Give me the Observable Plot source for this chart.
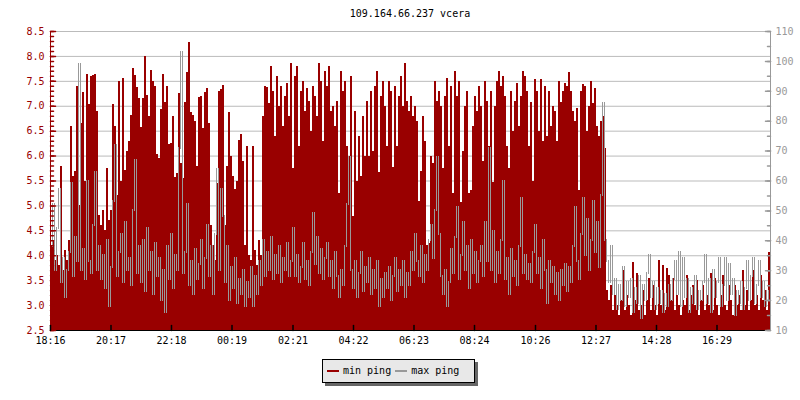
<!DOCTYPE html>
<html>
<head>
<meta charset="utf-8">
<script src="https://cdn.jsdelivr.net/npm/d3@7"></script>
<script src="https://cdn.jsdelivr.net/npm/@observablehq/plot@0.6"></script>
<style>
  html, body { margin: 0; padding: 0; background: #fff; }
  #wrap { position: relative; width: 800px; height: 400px; font-family: "DejaVu Sans Mono", monospace; font-size: 10px; }
  #title { position: absolute; left: 50px; width: 720px; top: 8px; line-height: 12px; text-align: center; color: #000; }
  #chart { position: absolute; left: 0; top: 0; }
  #legend { position: absolute; left: 322px; top: 359px; width: 153px; height: 24px; box-sizing: border-box;
            border: 1px solid #000; background: #e8e8e8; box-shadow: 3px 3px 0 #666;
            display: flex; align-items: center; padding-left: 4px; line-height: 12px; color: #000; }
  .sw { display: inline-block; width: 12px; height: 2px; margin-right: 4px; }
  .lab { margin-right: 4px; white-space: pre; }
</style>
</head>
<body>
<div id="wrap">
  <div id="chart"></div>
  <div id="title"></div>
  <div id="legend"></div>
</div>
<script>
const titleText = "109.164.66.237 vcera";
const seriesNames = ["min ping", "max ping"];
const seriesColors = ["#990000", "#999999"];
const tickLabels = ["18:16","20:17","22:18","00:19","02:21","04:22","06:23","08:24","10:26","12:27","14:28","16:29"];
const leftMajor = [2.5,3.0,3.5,4.0,4.5,5.0,5.5,6.0,6.5,7.0,7.5,8.0,8.5];
const rightMajor = [10,20,30,40,50,60,70,80,90,100,110];
const stepMinutes = 4;
const spanMinutes = 1440;

// min ping (left axis), one value every 4 minutes from 18:16
const minPing = [
4.2,4.3,3.9,4.0,3.8,5.8,3.7,4.1,3.9,4.3,6.6,5.6,5.7,7.4,5.0,6.65,7.27,5.5,7.63,7.03,
7.6,7.62,7.63,6.89,4.8,4.6,4.9,4.5,5.75,4.7,4.9,7.03,6.6,5.2,7.49,5.48,7.55,5.71,6.1,6.3,
6.82,7.75,7.61,7.38,7.15,6.57,7.15,7.99,7.21,6.8,7.72,7.49,7.4,6.03,5.95,6.93,7.63,7.07,7.4,6.24,
6.26,6.8,5.57,5.65,7.25,5.86,5.55,7.07,7.68,8.27,6.88,6.82,6.7,5.8,7.17,7.2,6.56,7.28,7.35,6.65,
4.6,4.2,3.9,5.45,7.29,7.33,7.42,4.6,5.8,6.87,6.0,5.59,5.32,5.5,6.32,6.43,5.9,4.2,6.2,4.0,
3.9,6.2,4.1,3.8,4.3,4.0,6.8,7.39,7.37,7.05,7.8,7.3,6.4,7.6,7.0,7.4,6.6,7.2,7.45,6.8,
7.85,5.75,7.6,7.8,6.2,7.3,7.5,6.9,7.35,7.1,6.5,7.4,7.2,6.8,7.85,7.5,6.3,7.7,7.4,7.8,
6.9,7.0,6.6,7.1,5.25,7.7,7.3,7.5,6.2,6.0,7.6,4.79,6.9,5.5,6.4,5.6,6.8,6.0,7.1,6.0,
7.3,6.1,7.4,7.7,5.67,7.2,7.5,7.0,6.2,7.5,7.3,5.77,7.4,6.2,7.2,7.6,7.0,7.85,7.1,6.9,
7.2,6.8,7.0,6.7,5.09,5.69,6.8,6.3,4.2,4.25,6.0,5.85,7.5,7.1,7.3,7.0,5.75,7.2,7.55,6.2,
7.4,5.25,7.7,7.2,7.5,5.07,6.1,7.0,7.3,5.25,5.3,6.6,7.2,6.9,7.4,7.0,5.9,7.5,7.1,6.2,
7.3,5.47,7.0,7.5,7.7,7.4,7.6,7.2,6.2,5.75,7.3,6.5,7.1,7.45,6.6,7.2,7.7,7.6,7.3,6.2,
7.07,5.5,7.54,7.3,6.5,7.54,6.3,7.4,6.4,7.3,6.6,7.0,6.9,6.3,7.5,7.07,7.3,7.45,7.4,7.68,
7.3,6.9,6.7,6.95,5.3,7.3,7.43,7.4,6.5,7.0,7.5,7.05,7.35,6.6,6.4,6.7,6.8,6.15,3.3,3.1,
3.4,2.9,3.2,3.0,2.8,3.1,3.7,2.9,3.2,3.0,2.8,3.86,3.1,3.64,2.9,3.0,3.3,2.8,3.1,3.54,
2.9,3.4,3.0,2.8,3.9,3.0,3.8,2.9,3.75,3.6,3.1,3.55,2.9,3.2,3.0,2.8,3.1,3.0,3.6,2.9,
3.2,3.4,3.0,3.5,2.8,3.1,3.4,2.9,3.2,3.0,3.64,2.9,3.55,3.0,2.8,3.2,3.6,3.0,2.9,3.4,
3.1,2.8,3.4,3.0,3.2,2.9,3.7,3.0,3.3,2.9,3.1,3.7,3.0,3.2,2.9,3.6,3.1,3.3,2.9,4.06
];

// max ping (right axis, ms), same timestamps
const maxPing = [
38,52,30,44,57,26,34,21,30,36,59,28,41,33,99,30,37,27,60,33,
29,45,63,30,38,27,35,24,40,18,31,53,72,28,36,42,26,46,30,34,
25,50,67,29,38,26,40,23,44,30,36,22,39,28,34,20,30,16,38,27,
42,24,35,30,71,103,29,36,52,25,33,22,37,27,32,40,24,34,45,28,
38,22,42,64,30,57,48,26,38,20,31,24,34,19,27,22,30,18,26,21,
31,18,28,22,33,25,40,28,36,30,41,27,35,29,38,26,34,30,39,28,
33,44,28,35,26,31,39,27,33,25,36,49,32,41,29,37,27,34,39,28,
33,24,36,28,21,30,25,38,52,68,30,24,33,21,29,36,23,31,26,34,
22,30,24,33,18,27,21,29,24,31,20,28,34,23,30,25,33,21,29,25,
36,30,42,33,28,38,26,35,30,40,45,34,50,68,42,28,22,30,18,26,
37,29,41,51,27,35,46,30,38,24,40,29,36,26,33,38,28,46,33,71,
30,43,26,36,29,40,60,27,34,22,37,28,33,25,38,54,29,35,27,32,
26,36,45,29,34,24,40,30,19,33,26,31,22,29,20,30,25,32,23,31,
26,38,51,33,27,42,54,35,47,30,40,53,36,46,31,55,86,40,33,26,
38,22,27,17,25,20,31,18,26,21,27,16,24,19,28,14,25,20,29,35,
21,26,17,24,19,23,16,22,18,25,20,27,33,22,36,18,34,21,27,16,
24,19,28,17,23,20,26,35,19,27,16,30,21,26,34,18,25,34,20,32,
22,27,15,23,19,26,17,24,33,20,28,34,19,25,33,21,26,18,23,20
];

const yDomain = [leftMajor[0], leftMajor[leftMajor.length - 1]];
const rDomain = [rightMajor[0], rightMajor[rightMajor.length - 1]];
const toLeft = ms => yDomain[0] + (ms - rDomain[0]) * (yDomain[1] - yDomain[0]) / (rDomain[1] - rDomain[0]);
const fromLeft = v => rDomain[0] + (v - yDomain[0]) * (rDomain[1] - rDomain[0]) / (yDomain[1] - yDomain[0]);

const toMin = s => { const [h, m] = s.split(":").map(Number); const base = 18 * 60 + 16; let v = h * 60 + m - base; if (v < 0) v += 1440; return v; };
const tickMinutes = tickLabels.map(toMin);

const leftMinor = d3.range(25, 86).map(d => d / 10);
const rightMinor = d3.range(rDomain[0], rDomain[1] + 1, 5).map(toLeft);

// each sample keeps the previous max value so the line is drawn as per-column vertical strokes (as rrdtool does)
const rows = minPing.map((v, i) => ({t: i * stepMinutes, min: v, max: maxPing[i], prevMax: maxPing[Math.max(0, i - 1)]}));

const tickShape = {draw(ctx, l) { ctx.moveTo(0, 0); ctx.lineTo(0, -l); }};
const red = seriesColors[0], gray = seriesColors[1];

const chart = Plot.plot({
  width: 800,
  height: 350,
  marginTop: 31,
  marginBottom: 20,
  marginLeft: 50,
  marginRight: 30,
  style: {fontFamily: "'DejaVu Sans Mono', monospace", fontSize: "10px", background: "transparent", overflow: "visible"},
  x: {domain: [0, spanMinutes], label: null},
  y: {domain: yDomain, label: null},
  marks: [
    Plot.gridY(leftMajor, {stroke: "#bbbbbb", strokeOpacity: 1}),
    Plot.rect(rows, {x1: "t", x2: d => d.t + stepMinutes, y1: () => yDomain[0], y2: "min", fill: red, shapeRendering: "crispEdges"}),
    Plot.rect(rows, {x1: "t", x2: d => d.t + stepMinutes, insetRight: 1, y1: d => toLeft(Math.min(d.prevMax, d.max)) - 0.02, y2: d => toLeft(Math.max(d.prevMax, d.max)) + 0.02, fill: gray, shapeRendering: "crispEdges"}),
    Plot.ruleX([0], {stroke: red}),
    Plot.ruleX([spanMinutes], {stroke: gray}),
    Plot.ruleY([yDomain[0]], {stroke: "#000"}),
    Plot.vector(leftMinor, {y: d => d, frameAnchor: "left", length: 3, rotate: 90, anchor: "start", shape: tickShape, stroke: red}),
    Plot.vector(leftMajor, {y: d => d, frameAnchor: "left", length: 5, rotate: 90, anchor: "start", shape: tickShape, stroke: red}),
    Plot.vector(rightMinor, {y: d => d, frameAnchor: "right", length: 3, rotate: -90, anchor: "start", shape: tickShape, stroke: gray}),
    Plot.vector(rightMajor.map(toLeft), {y: d => d, frameAnchor: "right", length: 5, rotate: -90, anchor: "start", shape: tickShape, stroke: gray}),
    Plot.vector(tickMinutes, {x: d => d, frameAnchor: "bottom", length: 5, rotate: 0, anchor: "start", shape: tickShape, stroke: "#000"}),
    Plot.axisY(leftMajor, {anchor: "left", label: null, tickSize: 0, tickPadding: 6, color: red, tickFormat: d => d.toFixed(1)}),
    Plot.axisY(rightMajor.map(toLeft), {anchor: "right", label: null, tickSize: 0, tickPadding: 5, color: gray, tickFormat: d => String(Math.round(fromLeft(d)))}),
    Plot.axisX(tickMinutes, {anchor: "bottom", label: null, tickSize: 0, tickPadding: 6, color: "#000", tickFormat: d => tickLabels[tickMinutes.indexOf(d)]})
  ]
});
document.getElementById("chart").appendChild(chart);
document.getElementById("title").textContent = titleText;

const legend = document.getElementById("legend");
seriesNames.forEach((name, i) => {
  const sw = document.createElement("span");
  sw.className = "sw";
  sw.style.background = seriesColors[i];
  const lab = document.createElement("span");
  lab.className = "lab";
  lab.textContent = name;
  legend.appendChild(sw);
  legend.appendChild(lab);
});
</script>
</body>
</html>
